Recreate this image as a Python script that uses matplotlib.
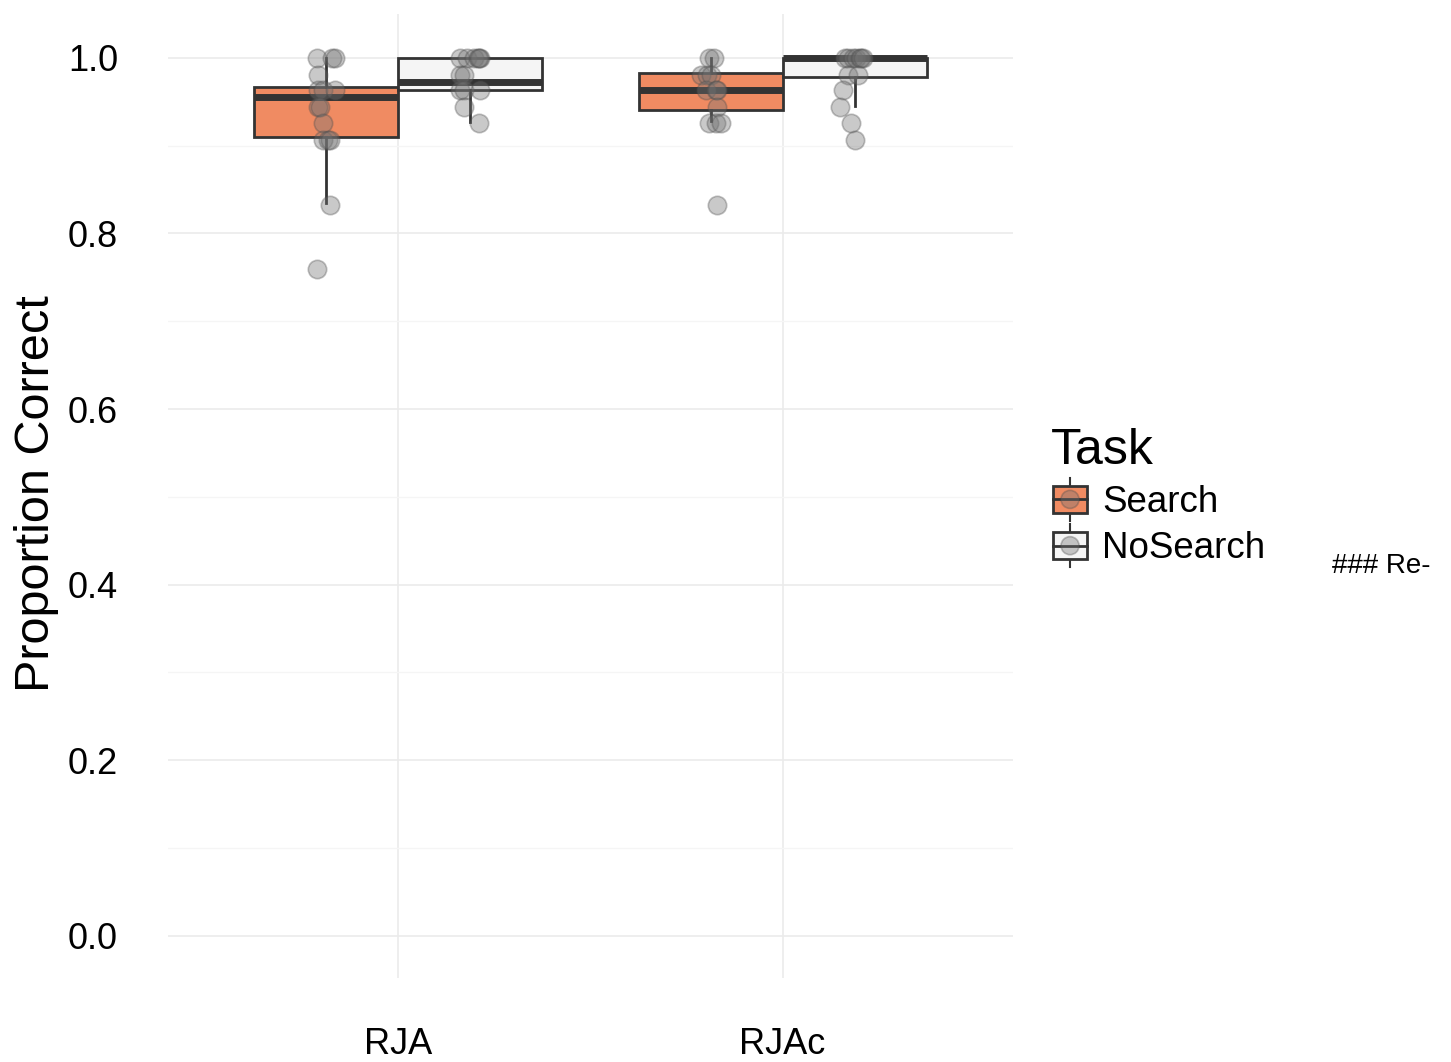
import numpy as np
import matplotlib
matplotlib.use('Agg')
import matplotlib.pyplot as plt
from matplotlib.patches import Rectangle, Circle
from matplotlib.lines import Line2D
from matplotlib.legend_handler import HandlerBase

plt.rcParams['font.family'] = ['Liberation Sans', 'DejaVu Sans']

conditions = ['RJA', 'RJAc']
tasks = ['Search', 'NoSearch']
task_colors = {'Search': '#F08B62', 'NoSearch': '#F5F5F5'}

# box stats: (whisker low, q1, median, q3, whisker high)
box_stats = {
    ('RJA', 'Search'):    (0.835, 0.910, 0.956, 0.967, 1.000),
    ('RJA', 'NoSearch'):  (0.927, 0.963, 0.973, 1.000, 1.000),
    ('RJAc', 'Search'):   (0.928, 0.941, 0.963, 0.983, 1.000),
    ('RJAc', 'NoSearch'): (0.945, 0.978, 1.000, 1.000, 1.000),
}

# per-participant proportion correct
rja_search = [1.0, 1.0, 1.0, 0.981, 0.963, 0.963, 0.963, 0.944, 0.944, 0.926,
              0.907, 0.907, 0.907, 0.833, 0.759]
rja_nosearch = [1.0, 1.0, 1.0, 1.0, 1.0, 1.0, 0.981, 0.981, 0.963, 0.963,
                0.963, 0.944, 0.926]
rjac_search = [1.0, 1.0, 0.981, 0.981, 0.981, 0.963, 0.963, 0.963, 0.944,
               0.926, 0.926, 0.926, 0.833]
rjac_nosearch = [1.0, 1.0, 1.0, 1.0, 1.0, 1.0, 1.0, 0.981, 0.981, 0.963,
                 0.944, 0.926, 0.907]

# horizontal jitter of each point (x units)
rja_search_jit = [-0.025, 0.015, 0.023, -0.021, -0.021, -0.010, 0.023, -0.023,
                  -0.016, -0.008, -0.010, 0.003, 0.010, 0.008, -0.024]
rja_nosearch_jit = [-0.026, -0.008, 0.008, 0.026, 0.020, 0.023, -0.026, -0.016,
                    -0.026, -0.018, 0.026, -0.018, 0.023]
rjac_search_jit = [-0.005, 0.008, -0.026, -0.008, 0.000, -0.013, 0.013, 0.018,
                   0.018, -0.003, 0.013, 0.026, 0.016]
rjac_nosearch_jit = [-0.026, -0.018, -0.005, 0.005, 0.013, 0.018, 0.023, -0.018,
                     0.008, -0.029, -0.039, -0.008, 0.000]

points = {
    ('RJA', 'Search'): (rja_search, rja_search_jit),
    ('RJA', 'NoSearch'): (rja_nosearch, rja_nosearch_jit),
    ('RJAc', 'Search'): (rjac_search, rjac_search_jit),
    ('RJAc', 'NoSearch'): (rjac_nosearch, rjac_nosearch_jit),
}

dodge = 0.375
edge = '#333333'
pt_face = (0.45, 0.45, 0.45, 0.38)
pt_edge = (0.3, 0.3, 0.3, 0.35)

fig = plt.figure(figsize=(14.51, 10.62), dpi=100)
ax = fig.add_axes([168 / 1451, 84 / 1062, 845 / 1451, 964 / 1062])

for i, cond in enumerate(conditions):
    base = i + 1
    for j, task in enumerate(tasks):
        xc = base + (j - 0.5) * dodge
        lo, q1, med, q3, hi = box_stats[(cond, task)]
        stats = [dict(whislo=lo, q1=q1, med=med, q3=q3, whishi=hi, fliers=[])]
        ax.bxp(stats, positions=[xc], widths=dodge, patch_artist=True,
               showcaps=False, showfliers=False,
               boxprops=dict(facecolor=task_colors[task], edgecolor=edge, linewidth=2),
               whiskerprops=dict(color=edge, linewidth=2),
               medianprops=dict(color=edge, linewidth=5, solid_capstyle='butt'),
               manage_ticks=False, zorder=2)
        yv, jit = points[(cond, task)]
        ax.scatter(xc + np.array(jit), yv, s=175, facecolor=pt_face,
                   edgecolor=pt_edge, linewidth=1.2, zorder=3)

ax.set_xlim(0.4, 2.6)
ax.set_ylim(-0.048, 1.05)
ax.set_xticks([1, 2])
ax.set_xticklabels(conditions)
ax.set_yticks(np.arange(0, 1.01, 0.2))
ax.set_yticklabels([f'{v:.1f}' for v in np.arange(0, 1.01, 0.2)])
ax.set_yticks(np.arange(0.1, 1.0, 0.2), minor=True)
ax.tick_params(axis='both', length=0, labelsize=26, colors='black')
ax.tick_params(axis='y', pad=36)
ax.tick_params(axis='x', pad=35)
ax.tick_params(which='minor', length=0)
ax.grid(True, which='major', color='#EBEBEB', linewidth=1.2)
ax.grid(True, which='minor', axis='y', color='#F5F5F5', linewidth=1.0)
ax.set_axisbelow(True)
for s in ax.spines.values():
    s.set_visible(False)

ax.set_ylabel('Proportion Correct', fontsize=35, va='center')
ax.yaxis.set_label_coords(-0.156, 0.502)


class BoxKey(HandlerBase):
    def __init__(self, fc):
        super().__init__()
        self.fc = fc

    def create_artists(self, legend, orig_handle, xdescent, ydescent, width, height, fontsize, trans):
        bw, bh = 25, 19
        x0 = (width - bw) / 2 - xdescent
        y0 = (height - bh) / 2 - ydescent
        cx = x0 + bw / 2
        cy = y0 + bh / 2
        arts = [
            Line2D([cx, cx], [y0 - 6, y0 + bh + 6], color=edge, lw=1.5),
            Rectangle((x0, y0), bw, bh, facecolor=self.fc, edgecolor=edge, lw=2),
            Line2D([x0, x0 + bw], [cy, cy], color=edge, lw=2),
            Circle((cx, cy), 6.5, facecolor=pt_face, edgecolor=pt_edge, lw=1.2),
        ]
        for a in arts:
            a.set_transform(trans)
        return arts


handles = [Rectangle((0, 0), 1, 1, label=t) for t in tasks]
leg = fig.legend(handles=handles, labels=tasks, loc='upper left',
                 bbox_to_anchor=(1036 / 1451, 1 - 413 / 1062), frameon=False,
                 fontsize=26.5, title='Task', title_fontsize=36, alignment='left',
                 handlelength=1.05, handleheight=1.0, handletextpad=0.35,
                 labelspacing=0.25, borderaxespad=0,
                 handler_map={handles[0]: BoxKey(task_colors['Search']),
                              handles[1]: BoxKey(task_colors['NoSearch'])})

fig.text(1332 / 1451, 1 - 566 / 1062, '### Re-', fontsize=20, ha='left', va='center')

fig.savefig('out.png', dpi=100)
